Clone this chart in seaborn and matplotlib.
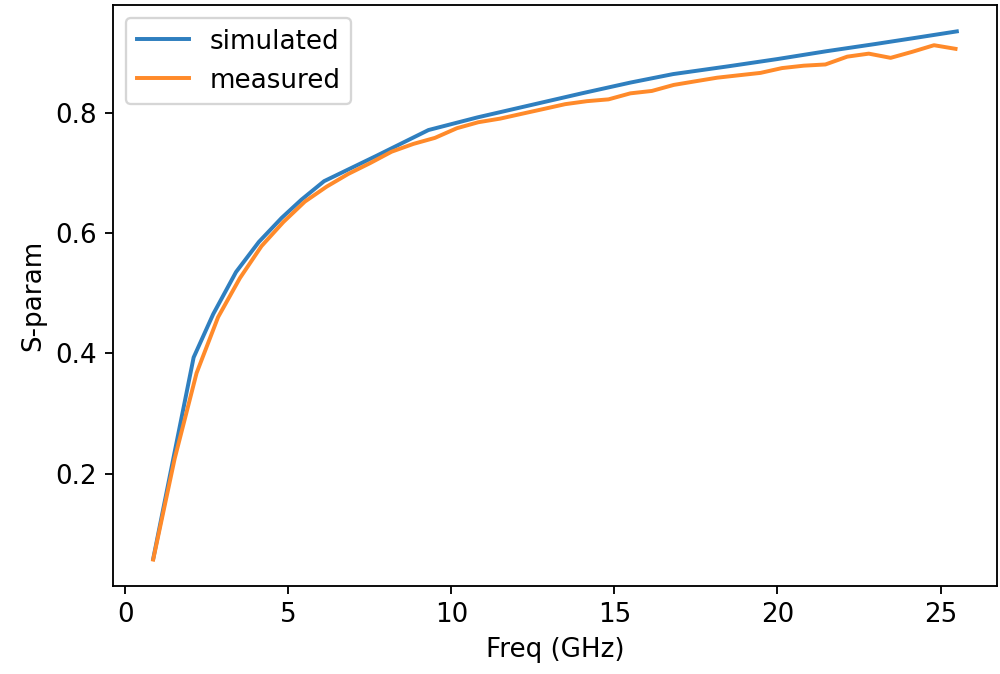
import matplotlib
matplotlib.use("Agg")
import matplotlib.pyplot as plt
import seaborn as sns
import numpy as np

# Simulated S-parameter magnitude vs frequency (GHz)
sim_freq = [0.86, 2.1, 2.7, 3.4, 4.1, 4.8, 5.4, 6.1, 7.7, 9.3, 10.8, 12.4,
            14.0, 15.5, 16.8, 18.5, 20.0, 21.5, 23.0, 24.2, 25.5]
sim_val = [0.058, 0.393, 0.465, 0.535, 0.585, 0.625, 0.655, 0.686, 0.728,
           0.771, 0.792, 0.812, 0.832, 0.850, 0.864, 0.877, 0.889, 0.902,
           0.914, 0.924, 0.935]

# Measured S-parameter magnitude vs frequency (GHz)
meas_freq = [0.86, 1.52, 2.19, 2.85, 3.52, 4.18, 4.85, 5.51, 6.18, 6.84,
             7.51, 8.17, 8.84, 9.50, 10.17, 10.83, 11.50, 12.16, 12.83,
             13.49, 14.16, 14.82, 15.49, 16.15, 16.82, 17.48, 18.15, 18.81,
             19.48, 20.14, 20.81, 21.47, 22.14, 22.80, 23.47, 24.13, 24.80,
             25.46]
meas_val = [0.057, 0.225, 0.367, 0.460, 0.525, 0.578, 0.618, 0.652, 0.677,
            0.698, 0.716, 0.735, 0.748, 0.758, 0.774, 0.784, 0.790, 0.798,
            0.806, 0.814, 0.819, 0.822, 0.832, 0.836, 0.846, 0.852, 0.858,
            0.862, 0.866, 0.874, 0.878, 0.880, 0.893, 0.898, 0.891, 0.901,
            0.912, 0.906]

plt.rcParams["font.size"] = 11.3
plt.rcParams["lines.linewidth"] = 1.7

fig = plt.figure(figsize=(6, 4.044), dpi=166.67)
ax = fig.add_axes([0.113, 0.1306, 0.884, 0.862])

sns.lineplot(x=sim_freq, y=sim_val, ax=ax, label="simulated", color="#2f7fbf")
sns.lineplot(x=meas_freq, y=meas_val, ax=ax, label="measured", color="#ff8a2a")

ax.set_xlabel("Freq (GHz)")
ax.set_ylabel("S-param")
ax.set_xticks([0, 5, 10, 15, 20, 25])
ax.set_yticks([0.2, 0.4, 0.6, 0.8])
ax.legend(loc="upper left")

fig.savefig("out.png", dpi=166.67)
